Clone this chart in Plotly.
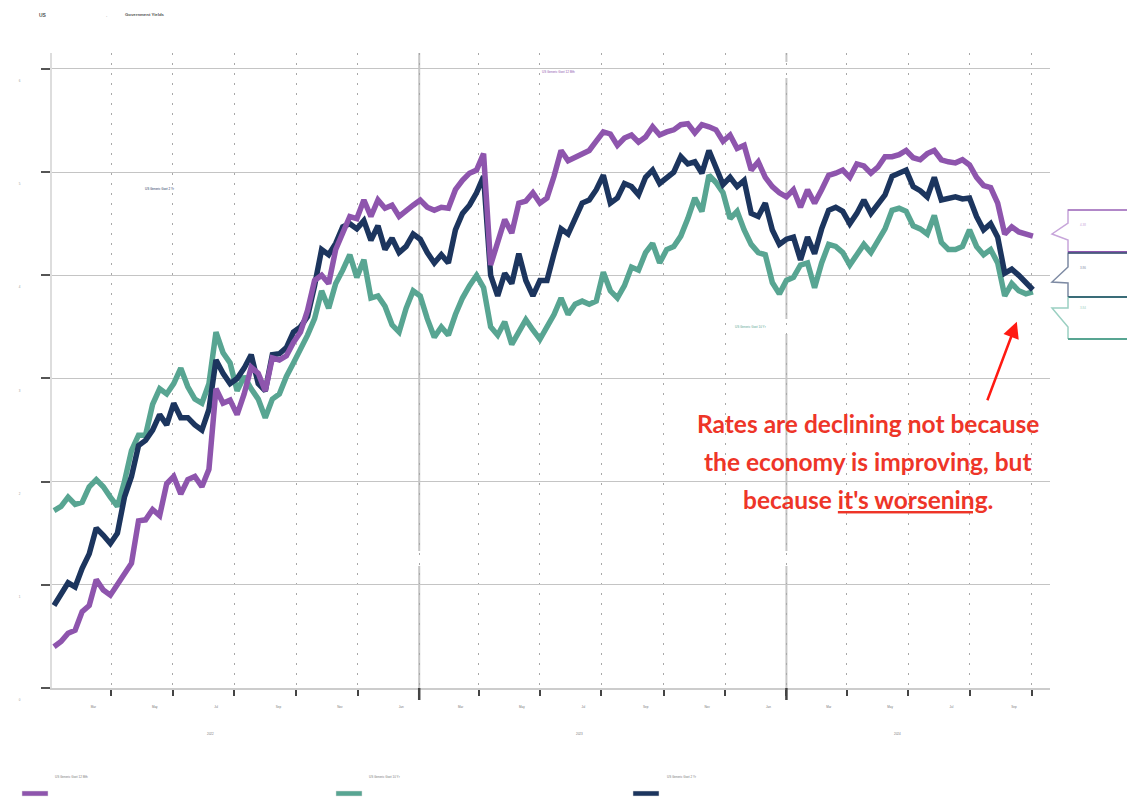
import pandas as pd
import plotly.graph_objects as go

# ---------------- data (weekly) ----------------
dates = pd.date_range("2022-01-03", periods=140, freq="7D")

y12m = [
    # 2022
    0.40, 0.45, 0.53, 0.56, 0.74, 0.80, 1.05, 0.95, 0.90, 1.00, 1.11, 1.21, 1.62,
    1.63, 1.73, 1.67, 1.98, 2.05, 1.88, 2.02, 2.05, 1.95, 2.12, 2.90, 2.76, 2.79,
    2.65, 2.85, 3.11, 3.05, 2.88, 3.20, 3.18, 3.22, 3.35, 3.45, 3.66, 3.95, 4.00,
    3.92, 4.25, 4.41, 4.57, 4.55, 4.73, 4.57, 4.73, 4.65, 4.68, 4.57, 4.63, 4.68,
    # 2023
    4.73, 4.66, 4.63, 4.66, 4.65, 4.83, 4.92, 4.99, 5.02, 5.18, 4.10, 4.30, 4.54,
    4.41, 4.70, 4.72, 4.80, 4.70, 4.75, 4.96, 5.21, 5.11, 5.14, 5.18, 5.21, 5.30,
    5.39, 5.37, 5.26, 5.33, 5.36, 5.29, 5.34, 5.44, 5.36, 5.39, 5.41, 5.46, 5.47,
    5.38, 5.46, 5.44, 5.41, 5.30, 5.36, 5.23, 5.26, 5.02, 5.10, 4.95, 4.86, 4.80,
    # 2024
    4.76, 4.83, 4.66, 4.83, 4.70, 4.83, 4.97, 4.99, 5.02, 4.95, 5.08, 5.06, 4.99,
    5.05, 5.15, 5.15, 5.17, 5.21, 5.14, 5.12, 5.18, 5.21, 5.12, 5.10, 5.09, 5.12,
    5.07, 4.95, 4.87, 4.85, 4.70, 4.40, 4.47, 4.42, 4.40, 4.38,
]

y10y = [
    # 2022
    1.72, 1.76, 1.85, 1.78, 1.80, 1.95, 2.02, 1.95, 1.85, 1.76, 2.00, 2.30, 2.45,
    2.45, 2.75, 2.90, 2.85, 2.95, 3.10, 2.92, 2.80, 2.76, 2.95, 3.45, 3.25, 3.15,
    2.88, 3.02, 2.90, 2.80, 2.62, 2.80, 2.85, 3.02, 3.15, 3.28, 3.42, 3.58, 3.85,
    3.68, 3.92, 4.05, 4.20, 3.98, 4.15, 3.78, 3.80, 3.70, 3.52, 3.45, 3.68, 3.85,
    # 2023
    3.80, 3.58, 3.40, 3.50, 3.42, 3.62, 3.78, 3.90, 4.00, 3.88, 3.50, 3.42, 3.55,
    3.33, 3.45, 3.57, 3.47, 3.38, 3.50, 3.62, 3.78, 3.62, 3.72, 3.75, 3.72, 3.75,
    4.03, 3.85, 3.78, 3.90, 4.08, 4.05, 4.22, 4.31, 4.12, 4.25, 4.28, 4.38, 4.55,
    4.75, 4.62, 4.97, 4.90, 4.80, 4.55, 4.62, 4.44, 4.30, 4.22, 4.20, 3.93, 3.82,
    # 2024
    3.95, 3.98, 4.10, 4.12, 3.88, 4.12, 4.30, 4.28, 4.22, 4.10, 4.20, 4.30, 4.22,
    4.34, 4.45, 4.63, 4.65, 4.62, 4.48, 4.45, 4.40, 4.58, 4.32, 4.25, 4.25, 4.28,
    4.44, 4.28, 4.20, 4.25, 4.12, 3.80, 3.92, 3.85, 3.82, 3.84,
]

y2y = [
    # 2022
    0.80, 0.90, 1.02, 0.98, 1.16, 1.30, 1.55, 1.48, 1.40, 1.50, 1.85, 2.05, 2.35,
    2.40, 2.50, 2.65, 2.55, 2.76, 2.62, 2.62, 2.55, 2.50, 2.70, 3.18, 3.05, 2.95,
    3.00, 3.10, 3.23, 2.95, 2.88, 3.23, 3.24, 3.30, 3.45, 3.50, 3.60, 3.90, 4.25,
    4.20, 4.31, 4.47, 4.50, 4.45, 4.53, 4.34, 4.48, 4.25, 4.36, 4.22, 4.28, 4.40,
    # 2023
    4.35, 4.22, 4.12, 4.20, 4.12, 4.44, 4.60, 4.68, 4.80, 4.96, 4.00, 3.80, 4.02,
    3.92, 4.21, 3.95, 3.80, 3.95, 3.95, 4.21, 4.45, 4.40, 4.55, 4.70, 4.73, 4.83,
    4.97, 4.70, 4.75, 4.89, 4.86, 4.78, 4.95, 5.02, 4.89, 4.95, 5.00, 5.15, 5.08,
    5.10, 4.99, 5.21, 5.05, 4.88, 4.95, 4.86, 4.92, 4.60, 4.57, 4.70, 4.44, 4.30,
    # 2024
    4.35, 4.37, 4.15, 4.37, 4.21, 4.45, 4.63, 4.66, 4.62, 4.50, 4.60, 4.73, 4.60,
    4.70, 4.78, 4.96, 4.99, 5.02, 4.86, 4.82, 4.76, 4.95, 4.73, 4.75, 4.76, 4.74,
    4.75, 4.57, 4.44, 4.50, 4.37, 4.02, 4.06, 4.00, 3.92, 3.86,
]

series_names = ["US Generic Govt 12 Mth", "US Generic Govt 10 Yr", "US Generic Govt 2 Yr"]
series_colors = ["#8e55ad", "#58a592", "#1c355e"]

tick_dates = ["2022-03-01", "2022-05-01", "2022-07-01", "2022-09-01", "2022-11-01",
              "2023-01-01", "2023-03-01", "2023-05-01", "2023-07-01", "2023-09-01",
              "2023-11-01", "2024-01-01", "2024-03-01", "2024-05-01", "2024-07-01",
              "2024-09-01"]
tick_labels = ["Mar", "May", "Jul", "Sep", "Nov", "Jan", "Mar", "May", "Jul", "Sep",
               "Nov", "Jan", "Mar", "May", "Jul", "Sep"]
year_labels = ["2022", "2023", "2024"]
year_label_dates = ["2022-06-08", "2023-06-09", "2024-04-20"]
year_starts = ["2023-01-01", "2024-01-01"]
y_ticks = [0, 1, 2, 3, 4, 5, 6]

assert len(y12m) == len(y10y) == len(y2y) == len(dates)

# ---------------- geometry helpers (pixel -> paper) ----------------
PL, PR, PT, PB = 52, 1050, 53, 688
def px(x):
    return (x - PL) / (PR - PL)
def py(y):
    return (PB - y) / (PB - PT)

fig = go.Figure()
order = [1, 2, 0]  # teal, navy, purple on top
vals = [y12m, y10y, y2y]
for i in order:
    fig.add_trace(go.Scatter(x=dates, y=vals[i], mode="lines", name=series_names[i],
                             line=dict(color=series_colors[i], width=5.5),
                             hoverinfo="skip"))

shapes = []
# year separator lines
for d in year_starts:
    shapes.append(dict(type="line", xref="x", yref="paper", x0=d, x1=d, y0=0, y1=1,
                       line=dict(color="#c6c6c6", width=2), layer="below"))
    shapes.append(dict(type="line", xref="x", yref="paper", x0=d, x1=d, y0=py(700), y1=0,
                       line=dict(color="#444", width=2.5), layer="above"))
# white bands / label boxes
shapes.append(dict(type="rect", xref="paper", yref="paper", x0=0, x1=1, y0=py(566), y1=py(551),
                   fillcolor="white", line=dict(width=0), layer="between"))
shapes.append(dict(type="rect", xref="paper", yref="paper", x0=px(533), x1=px(795), y0=py(78), y1=py(62),
                   fillcolor="white", line=dict(width=0), layer="between"))
shapes.append(dict(type="rect", xref="paper", yref="paper", x0=px(722), x1=px(792), y0=py(334), y1=py(319),
                   fillcolor="white", line=dict(width=0), layer="between"))

def path(points):
    return "M " + " L ".join(f"{px(a):.5f},{py(b):.5f}" for a, b in points)

# right-side value callouts
callouts = [
    (series_colors[0], "#c7a5da", [(1127, 210), (1068, 210), (1068, 223), (1052, 234), (1068, 240), (1068, 252)], 252, 221),
    (series_colors[2], "#7d8aa3", [(1127, 253), (1068, 253), (1068, 267), (1052, 282), (1068, 283), (1068, 297)], 297, 264),
    (series_colors[1], "#9bd0c2", [(1068, 297), (1068, 308), (1052, 308), (1068, 327), (1068, 339)], 339, 308),
]
last_vals = [y12m[-1], y2y[-1], y10y[-1]]
for (col, light, pts, bottom, ty), v in zip(callouts, last_vals):
    shapes.append(dict(type="path", xref="paper", yref="paper", path=path(pts),
                       line=dict(color=light, width=1.5), layer="above"))
    shapes.append(dict(type="line", xref="paper", yref="paper", x0=px(1068), x1=px(1127),
                       y0=py(bottom), y1=py(bottom), line=dict(color=col, width=2), layer="above"))
    top = pts[0][1] if pts[0][0] == 1127 else 297
    shapes.append(dict(type="line", xref="paper", yref="paper", x0=px(1068), x1=px(1127),
                       y0=py(top), y1=py(top), line=dict(color=col, width=1), layer="above"))

# bottom legend swatches
legend_x = [22, 336, 633]
legend_order = [0, 1, 2]
for lx, i in zip(legend_x, legend_order):
    shapes.append(dict(type="rect", xref="paper", yref="paper", x0=px(lx), x1=px(lx + 26),
                       y0=py(796), y1=py(791), fillcolor=series_colors[i],
                       line=dict(width=0.5, color="#ddd"), layer="above"))

annotations = []
tiny = dict(family="Liberation Sans, Arial", size=3, color="#777")
# title
annotations.append(dict(xref="paper", yref="paper", x=px(37), y=py(15), text="<b>US</b>",
                        showarrow=False, xanchor="left", yanchor="middle",
                        font=dict(family="Liberation Sans, Arial", size=5, color="#555")))
annotations.append(dict(xref="paper", yref="paper", x=px(104), y=py(15), text=".",
                        showarrow=False, xanchor="left", yanchor="middle",
                        font=dict(family="Liberation Sans, Arial", size=5, color="#888")))
annotations.append(dict(xref="paper", yref="paper", x=px(123), y=py(15), text="<b>Government Yields</b>",
                        showarrow=False, xanchor="left", yanchor="middle",
                        font=dict(family="Liberation Sans, Arial", size=4.3, color="#555")))
# year labels
for yl, yd in zip(year_labels, year_label_dates):
    annotations.append(dict(xref="x", yref="paper", x=yd, y=py(738), text=yl, showarrow=False,
                            font=tiny))
# inline series labels
annotations.append(dict(xref="paper", yref="paper", x=px(540), y=py(68), text=series_names[0],
                        showarrow=False, xanchor="left", font=dict(family="Liberation Sans", size=3, color=series_colors[0])))
annotations.append(dict(xref="paper", yref="paper", x=px(143), y=py(185), text=series_names[2],
                        showarrow=False, xanchor="left", font=dict(family="Liberation Sans", size=3, color=series_colors[2])))
annotations.append(dict(xref="paper", yref="paper", x=px(733), y=py(327), text=series_names[1],
                        showarrow=False, xanchor="left", font=dict(family="Liberation Sans", size=3, color=series_colors[1])))
# callout values
for (col, light, pts, bottom, ty), v in zip(callouts, last_vals):
    annotations.append(dict(xref="paper", yref="paper", x=px(1078), y=py(ty), text=f"{v:.2f}",
                            showarrow=False, xanchor="left", font=dict(family="Liberation Sans", size=3, color=light)))
# legend labels
legend_lab_x = [53, 367, 665]
for lx, i in zip(legend_lab_x, legend_order):
    annotations.append(dict(xref="paper", yref="paper", x=px(lx), y=py(781), text=series_names[i],
                            showarrow=False, xanchor="left", font=tiny))

# red commentary
red = "#ee3528"
red_font = dict(family="Lato, Open Sans, sans-serif", size=24.5, color=red)
lines = ["<b>Rates are declining not because</b>",
         "<b>the economy is improving, but</b>",
         "<b>because <span style='text-decoration:underline'>it's worsening</span>.</b>"]
for t, yy in zip(lines, [423, 462, 500]):
    annotations.append(dict(xref="paper", yref="paper", x=px(868), y=py(yy), text=t,
                            showarrow=False, xanchor="center", yanchor="middle", font=red_font))
annotations.append(dict(xref="x", yref="y", x="2024-08-17", y=3.55, text="", showarrow=True,
                        ax=-30, ay=80, arrowhead=2, arrowsize=1.3, arrowwidth=2.5,
                        arrowcolor="#ff1a12"))

fig.update_layout(
    width=1127, height=800,
    margin=dict(l=PL, r=1127 - PR, t=PT, b=800 - PB),
    plot_bgcolor="white", paper_bgcolor="white",
    showlegend=False,
    font=dict(family="Liberation Sans, Arial", color="#666"),
    shapes=shapes, annotations=annotations,
    xaxis=dict(type="date", range=["2022-01-01", "2024-09-19"],
               tickvals=tick_dates, ticktext=tick_labels,
               ticks="outside", ticklen=6, tickwidth=2, tickcolor="#444",
               showgrid=True, gridcolor="#a8a8a8", gridwidth=1, griddash="2px,8px",
               showline=True, linecolor="#cccccc", linewidth=2,
               tickfont=dict(size=3, color="#777"),
               ticklabelshift=-18, ticklabelstandoff=8, zeroline=False),
    yaxis=dict(range=[0, (PB - PT) / 103.17], tickvals=y_ticks,
               ticks="outside", ticklen=9, tickwidth=2, tickcolor="#555",
               showgrid=True, gridcolor="#c4c4c4", gridwidth=1,
               showline=True, linecolor="#dddddd", linewidth=2,
               tickfont=dict(size=3, color="#999"),
               ticklabelstandoff=20, ticklabelshift=12, zeroline=False),
)

fig.write_html("out.html")
